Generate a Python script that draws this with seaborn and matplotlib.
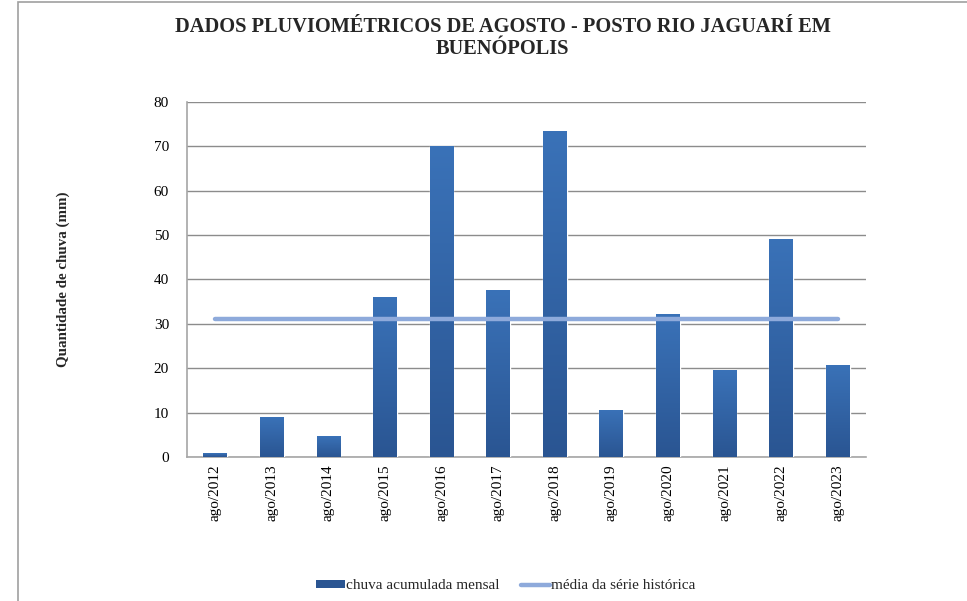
import matplotlib
matplotlib.use('Agg')
import matplotlib.pyplot as plt
import numpy as np
import pandas as pd
import seaborn as sns
from matplotlib.colors import LinearSegmentedColormap
from matplotlib.lines import Line2D
from matplotlib.patches import Patch, Rectangle

# dados
anos = ['ago/2012', 'ago/2013', 'ago/2014', 'ago/2015', 'ago/2016', 'ago/2017',
        'ago/2018', 'ago/2019', 'ago/2020', 'ago/2021', 'ago/2022', 'ago/2023']
chuva = [0.8, 9.0, 4.7, 36.0, 70.0, 37.6, 73.5, 10.6, 32.2, 19.6, 49.2, 20.8]
media = [31.2] * len(anos)

BAR_TOP = '#3a72b8'
BAR_BOTTOM = '#2a5592'
LINE_COLOR = '#8eaadb'

sns.set_theme(style='white')
plt.rcParams['font.family'] = ['Liberation Serif', 'DejaVu Serif']

df = pd.DataFrame({'ano': anos, 'chuva': chuva, 'media': media})

fig = plt.figure(figsize=(9.67, 6.01), dpi=100)
ax = fig.add_axes([0.1934, 0.2396, 0.7021, 0.5907])

sns.barplot(data=df, x='ano', y='chuva', color=BAR_BOTTOM, width=0.42,
            saturation=1, ax=ax, zorder=3)
sns.lineplot(data=df, x='ano', y='media', color=LINE_COLOR, linewidth=3.2,
             ax=ax, zorder=4, solid_capstyle='round')

# gradiente vertical nas barras
cmap = LinearSegmentedColormap.from_list('grad', [BAR_BOTTOM, BAR_TOP])
grad = np.linspace(0, 1, 256).reshape(-1, 1)
for p in ax.patches:
    x0, y0 = p.get_x(), p.get_y()
    w, h = p.get_width(), p.get_height()
    im = ax.imshow(grad, cmap=cmap, aspect='auto', origin='lower',
                   extent=[x0, x0 + w, y0, y0 + h], zorder=3.5)
    im.set_clip_path(p)

ax.set_xlim(-0.5, len(anos) - 0.5)
ax.set_ylim(0, 80)
ax.set_yticks(range(0, 81, 10))
ax.yaxis.grid(True, color='#8c8c8c', linewidth=1.0, zorder=0)
ax.xaxis.grid(False)
ax.set_axisbelow(True)

for s in ['top', 'right']:
    ax.spines[s].set_visible(False)
for s in ['left', 'bottom']:
    ax.spines[s].set_color('#a6a6a6')
    ax.spines[s].set_linewidth(1.2)

ax.tick_params(axis='y', labelsize=11, pad=13, length=0, colors='black')
ax.tick_params(axis='x', labelsize=11, rotation=90, length=0, pad=5, colors='black')
ax.set_xlabel('')
ax.set_ylabel('Quantidade de chuva (mm)', fontsize=10.8, fontweight='bold', labelpad=0)
ax.yaxis.set_label_coords(-0.173, 0.5)

fig.text(0.52, 0.971, 'DADOS PLUVIOMÉTRICOS DE AGOSTO - POSTO RIO JAGUARÍ EM\nBUENÓPOLIS',
         ha='center', va='top', fontsize=14.7, fontweight='bold', linespacing=1.1)

handles = [Patch(facecolor=BAR_BOTTOM, edgecolor='none'),
           Line2D([0], [0], color=LINE_COLOR, linewidth=3.2, solid_capstyle='round')]
fig.legend(handles, ['chuva acumulada mensal', 'média da série histórica'],
           loc='center', bbox_to_anchor=(0.523, 0.025), ncol=2, frameon=False,
           fontsize=11, handlelength=1.9, handleheight=0.35, handletextpad=0.05,
           columnspacing=1.4)

# moldura do gráfico
fig.patches.append(Rectangle((0.019, -0.05), 1.1, 1.046, transform=fig.transFigure,
                             fill=False, edgecolor='#a0a0a0', linewidth=1.2))

fig.savefig('out.png', dpi=100)
